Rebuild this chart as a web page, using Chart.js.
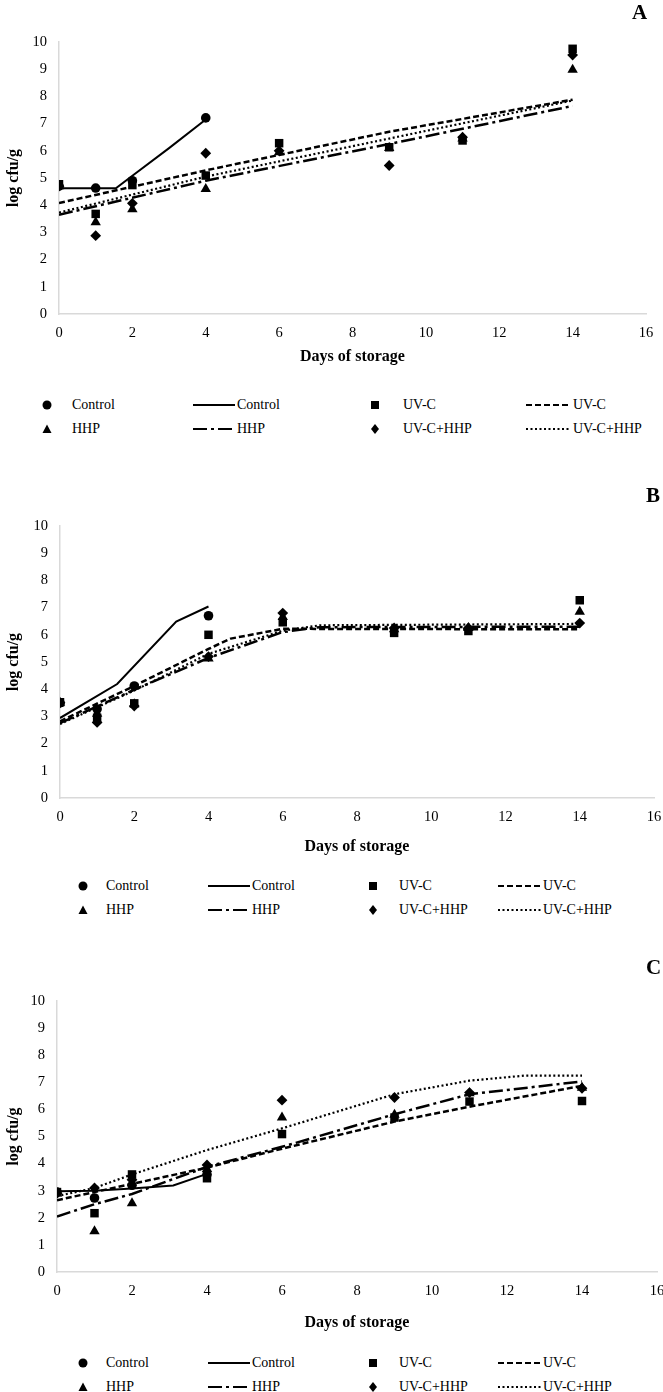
<!DOCTYPE html>
<html>
<head>
<meta charset="utf-8">
<script src="https://cdn.jsdelivr.net/npm/chart.js@4.4.1/dist/chart.umd.min.js"></script>
<style>
body{margin:0;width:663px;height:1392px;position:relative;overflow:hidden;background:#fff;font-family:'Liberation Serif',serif;color:#000}
canvas{position:absolute;left:0}
.letter{position:absolute;font-weight:bold;font-size:21px;line-height:24px}
.leg{position:absolute;font-size:14px;line-height:16px;white-space:nowrap}
.legsvg{position:absolute;overflow:visible}
</style>
</head>
<body>
<canvas id="chartA"></canvas>
<canvas id="chartB"></canvas>
<canvas id="chartC"></canvas>
<div class="letter" style="left:632px;top:0px">A</div>
<div class="letter" style="left:646px;top:483px">B</div>
<div class="letter" style="left:646px;top:955px">C</div>
<script>
// sampling days for the measured points
const days = [0, 1, 2, 4, 6, 9, 11, 14]
const ctrlDays = [0, 1, 2, 4]

// panel A - measured
const ctrlA = [4.7, 4.63, 4.9, 7.21]
const uvcA = [4.77, 3.68, 4.74, 5.09, 6.28, 6.13, 6.38, 9.75]
const hhpA = [4.7, 3.37, 3.85, 4.6, 5.95, 6.1, 6.45, 8.98]
const combA = [4.7, 2.88, 4.07, 5.91, 6.0, 5.46, 6.5, 9.52]
// panel A - fitted curves
const ctrlLineDaysA = [0, 1, 1.55, 2, 3, 4]
const ctrlLineA = [4.62, 4.62, 4.62, 5.08, 6.1, 7.15]
const fitDaysA = [0, 4, 9, 14]
const uvcLineA = [4.08, 5.28, 6.7, 7.88]
const hhpLineA = [3.65, 4.9, 6.25, 7.65]
const combLineA = [3.73, 5.05, 6.45, 7.85]

// panel B - measured
const ctrlB = [3.5, 3.27, 4.12, 6.7]
const uvcB = [3.52, 2.95, 3.48, 6.0, 6.46, 6.07, 6.14, 7.27]
const hhpB = [3.5, 3.1, 3.45, 5.13, 6.65, 6.2, 6.25, 6.85]
const combB = [3.5, 2.78, 3.38, 5.2, 6.8, 6.25, 6.25, 6.43]
// panel B - fitted curves
const ctrlLineDaysB = [0, 1.54, 3.13, 4]
const ctrlLineB = [2.94, 4.19, 6.49, 7.04]
const uvcLineDaysB = [0, 2, 4, 4.6, 6, 14]
const uvcLineB = [2.82, 4.12, 5.48, 5.86, 6.22, 6.2]
const fitDaysB = [0, 2, 4, 6, 7, 14]
const hhpLineB = [2.75, 3.98, 5.15, 6.1, 6.28, 6.3]
const combLineB = [2.72, 3.95, 5.3, 6.15, 6.35, 6.4]

// panel C - measured
const ctrlC = [2.95, 2.73, 3.2, 3.6]
const uvcC = [2.95, 2.17, 3.6, 3.46, 5.09, 5.7, 6.29, 6.31]
const hhpC = [2.9, 1.5, 2.54, 3.8, 5.7, 5.8, 6.6, 6.8]
const combC = [2.9, 3.1, 3.4, 3.95, 6.34, 6.44, 6.62, 6.78]
// panel C - fitted curves
const ctrlLineDaysC = [0, 1, 2, 3.1, 4]
const ctrlLineC = [2.98, 3.0, 3.08, 3.19, 3.62]
const uvcLineDaysC = [0, 2, 4, 6, 9, 11, 14]
const uvcLineC = [2.65, 3.25, 3.85, 4.55, 5.55, 6.1, 6.87]
const hhpLineDaysC = [0, 1, 2, 4, 6, 9, 11, 14]
const hhpLineC = [2.05, 2.5, 2.88, 3.88, 4.62, 5.82, 6.56, 7.03]
const combLineDaysC = [0, 1, 2, 4, 6, 9, 11, 12.5, 14]
const combLineC = [2.8, 3.1, 3.6, 4.5, 5.3, 6.56, 7.06, 7.25, 7.25]

const xTicks = [0, 2, 4, 6, 8, 10, 12, 14, 16]
const yTicks = [0, 1, 2, 3, 4, 5, 6, 7, 8, 9, 10]
const names = ['Control', 'UV-C', 'HHP', 'UV-C+HHP']

const serif = 'Liberation Serif'
const dashes = [[], [6, 3], [14, 4, 3, 4], [2, 2.5]]
const widths = [2, 2.5, 2.5, 2.2]
const markers = ['circle', 'rect', 'triangle', 'rectRot']
const markerSize = [4.8, 6, 6, 5.4]

const toXY = (xs, ys) => ys.map((y, i) => ({x: xs[i], y}))

const pointSet = (i, xs, ys) => ({
    label: names[i], data: toXY(xs, ys), showLine: false,
    pointStyle: markers[i], pointRadius: markerSize[i],
    backgroundColor: '#000', borderColor: '#000', borderWidth: 0, order: 1
})
const lineSet = (i, xs, ys) => ({
    label: names[i], data: toXY(xs, ys), showLine: true, pointRadius: 0,
    borderColor: '#000', borderWidth: widths[i], borderDash: dashes[i], fill: false, order: 2
})

const panels = [
    {id: 'chartA', top: 0, left: 59, right: 646, plotTop: 42, plotBottom: 314, titleY: 357,
        sets: [
            lineSet(0, ctrlLineDaysA, ctrlLineA), lineSet(1, fitDaysA, uvcLineA),
            lineSet(2, fitDaysA, hhpLineA), lineSet(3, fitDaysA, combLineA),
            pointSet(1, days, uvcA), pointSet(0, ctrlDays, ctrlA),
            pointSet(2, days, hhpA), pointSet(3, days, combA)
        ]},
    {id: 'chartB', top: 440, left: 60, right: 654, plotTop: 526, plotBottom: 798, titleY: 847,
        sets: [
            lineSet(0, ctrlLineDaysB, ctrlLineB), lineSet(1, uvcLineDaysB, uvcLineB),
            lineSet(2, fitDaysB, hhpLineB), lineSet(3, fitDaysB, combLineB),
            pointSet(1, days, uvcB), pointSet(0, ctrlDays, ctrlB),
            pointSet(2, days, hhpB), pointSet(3, days, combB)
        ]},
    {id: 'chartC', top: 920, left: 57, right: 658, plotTop: 1001, plotBottom: 1272, titleY: 1323,
        sets: [
            lineSet(0, ctrlLineDaysC, ctrlLineC), lineSet(1, uvcLineDaysC, uvcLineC),
            lineSet(2, hhpLineDaysC, hhpLineC), lineSet(3, combLineDaysC, combLineC),
            pointSet(1, days, uvcC), pointSet(0, ctrlDays, ctrlC),
            pointSet(2, days, hhpC), pointSet(3, days, combC)
        ]}
]

const drawPanel = (p) => {
    const xHeight = p.titleY - p.plotBottom + 9
    const canvas = document.getElementById(p.id)
    canvas.width = 663
    canvas.height = p.plotBottom - p.top + xHeight
    canvas.style.top = p.top + 'px'
    new Chart(canvas.getContext('2d'), {
        type: 'scatter',
        data: {datasets: p.sets},
        options: {
            responsive: false,
            animation: false,
            layout: {padding: {top: p.plotTop - p.top, right: 663 - p.right, left: 0, bottom: 0}},
            plugins: {legend: {display: false}, tooltip: {enabled: false}},
            scales: {
                x: {
                    type: 'linear', min: 0, max: 16,
                    afterBuildTicks: s => { s.ticks = xTicks.map(v => ({value: v})) },
                    ticks: {padding: 10, color: '#000', font: {family: serif, size: 14.5}},
                    grid: {display: false, drawTicks: false},
                    border: {display: true, color: '#d9d9d9', width: 1.5},
                    title: {display: true, text: 'Days of storage', color: '#000', padding: 0,
                        font: {family: serif, size: 16, weight: 'bold'}},
                    afterFit: s => { s.height = xHeight; s.paddingLeft = 0; s.paddingRight = 0 }
                },
                y: {
                    min: 0, max: 10,
                    afterBuildTicks: s => { s.ticks = yTicks.map(v => ({value: v})) },
                    ticks: {padding: 12, color: '#000', font: {family: serif, size: 14.5}},
                    grid: {display: false, drawTicks: false},
                    border: {display: true, color: '#d9d9d9', width: 1.5},
                    title: {display: true, text: 'log cfu/g', color: '#000', padding: {top: 4, bottom: 0},
                        font: {family: serif, size: 16, weight: 'bold'}},
                    afterFit: s => { s.width = p.left; s.paddingTop = 0; s.paddingBottom = 0 }
                }
            }
        }
    })
}
panels.forEach(drawPanel)

// legends (HTML, one per panel)
const markerSvg = (i) => {
    if (i === 0) return '<circle cx="5" cy="5" r="4.5" fill="#000"/>'
    if (i === 1) return '<rect x="1" y="1" width="8" height="8" fill="#000"/>'
    if (i === 2) return '<polygon points="5,0.5 9.5,9 0.5,9" fill="#000"/>'
    return '<polygon points="5,0 9,5 5,10 1,5" fill="#000"/>'
}
const lineSvg = (i, w) => '<line x1="0" y1="5" x2="' + w + '" y2="5" stroke="#000" stroke-width="2.2"' +
    (dashes[i].length ? ' stroke-dasharray="' + dashes[i].join(',') + '"' : '') + '/>'

const legends = [
    {rows: [405, 429], cols: [47, 72, 193, 237, 375, 403, 526, 573]},
    {rows: [886, 910], cols: [83, 106, 208, 252, 373, 399, 498, 543]},
    {rows: [1363, 1387], cols: [83, 106, 208, 252, 373, 399, 498, 543]}
]
const order = [[0, 1], [2, 3]]
legends.forEach(lg => {
    lg.rows.forEach((y, r) => {
        order[r].forEach((k, c) => {
            const mx = lg.cols[c * 4], tx = lg.cols[c * 4 + 1]
            const lx = lg.cols[c * 4 + 2], ltx = lg.cols[c * 4 + 3]
            const lw = ltx - lx - 2
            document.body.insertAdjacentHTML('beforeend',
                '<svg class="legsvg" width="10" height="10" style="left:' + (mx - 5) + 'px;top:' + (y - 5) + 'px">' + markerSvg(k) + '</svg>' +
                '<div class="leg" style="left:' + tx + 'px;top:' + (y - 8) + 'px">' + names[k] + '</div>' +
                '<svg class="legsvg" width="' + lw + '" height="10" style="left:' + lx + 'px;top:' + (y - 5) + 'px">' + lineSvg(k, lw) + '</svg>' +
                '<div class="leg" style="left:' + ltx + 'px;top:' + (y - 8) + 'px">' + names[k] + '</div>')
        })
    })
})
</script>
</body>
</html>
